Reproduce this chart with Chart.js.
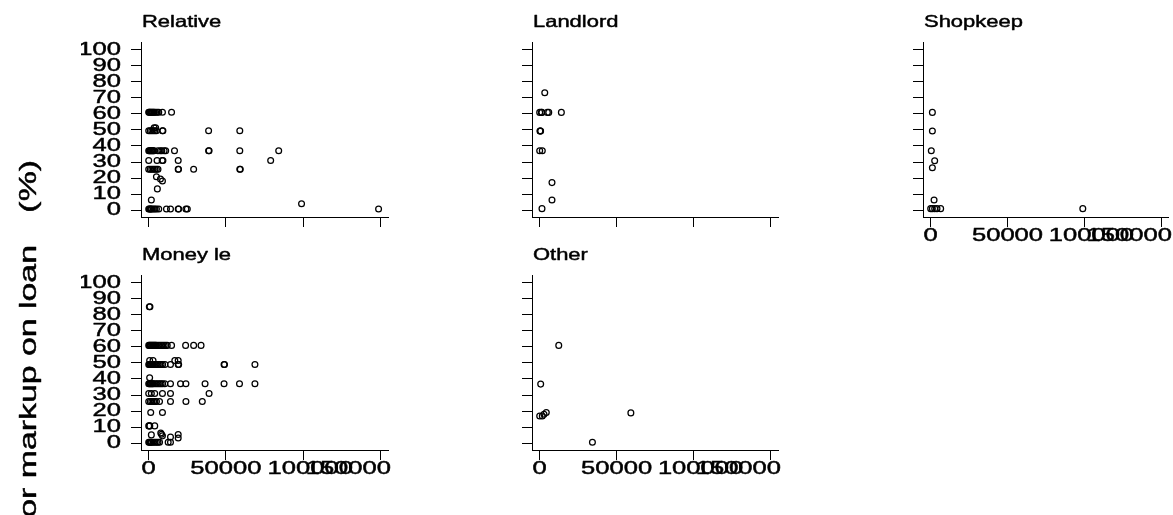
<!DOCTYPE html>
<html><head><meta charset="utf-8">
<script src="https://cdn.jsdelivr.net/npm/chart.js@4.4.1/dist/chart.umd.min.js"></script>
<style>
html,body{margin:0;padding:0;background:#fff;width:1173px;height:515px;overflow:hidden;}
canvas{position:absolute;left:0;top:0;}
</style></head><body>
<canvas id="c0" width="1173" height="515"></canvas>
<canvas id="c1" width="1173" height="515"></canvas>
<canvas id="c2" width="1173" height="515"></canvas>
<canvas id="c3" width="1173" height="515"></canvas>
<canvas id="c4" width="1173" height="515"></canvas>
<script>
// ---------- data ----------
const panelTitles = ["Relative", "Landlord", "Shopkeep", "Money le", "Other"];
const yAxisTitle = "or markup on loan";
const yAxisUnit = "(%)";
const xTickValues = [0, 50000, 100000, 150000];
const xTickLabels = ["0", "50000", "100000", "150000"];
const yTickValues = [0, 10, 20, 30, 40, 50, 60, 70, 80, 90, 100];

const relativeX = [0,300,800,1200,1700,2200,2700,3200,3700,4500,5500,6500,8900,14800,
  3500,4500,
  0,1000,2000,3000,4000,5000,8900,9200,38800,59000,
  0,500,1000,1500,2000,2500,3000,3500,6000,7500,8500,10000,11000,16700,38800,39100,59000,84200,
  0,5400,8700,9200,19100,79000,
  0,1000,2000,3000,4000,5000,6000,19100,19300,29100,59000,59300,
  5000,7600,8900,5600,1700,
  0,500,1000,1500,2000,3000,4000,5000,6500,11500,14100,19100,19400,24100,25000,148900,
  99000];
const relativeY = [61,61,61,61,61,61,61,61,61,61,61,61,61,61,
  51.3,51.3,
  49.5,49.5,49.5,49.5,49.5,49.5,49.5,49.5,49.5,49.5,
  37,37,37,37,37,37,37,37,37,37,37,37,37,37,37,37,37,37,
  31,31,31,31,31,31,
  25.5,25.5,25.5,25.5,25.5,25.5,25.5,25.5,25.5,25.5,25.5,25.5,
  20.9,19.5,18.2,13.3,6.4,
  0.8,0.8,0.8,0.8,0.8,0.8,0.8,0.8,0.8,0.8,0.8,0.8,0.8,0.8,0.8,0.8,
  4.1];

const landlordX = [3300,0,1100,1400,5000,5900,14100,200,400,600,0,1700,8000,8000,1500];
const landlordY = [73.1,60.9,60.9,60.9,60.9,60.9,60.9,49.3,49.3,49.3,37,37,17.2,6.4,1];

const shopkeepX = [1100,1100,400,2600,1100,2200,0,1100,2600,4100,6500,99000];
const shopkeepY = [60.9,49.3,37,30.8,26.5,6.4,1,1,1,1,1,1];

const moneyX = [400,800,
  0,500,1000,1500,2000,2500,3000,3500,4000,4500,5000,6000,7000,8000,9000,10000,11000,12000,14800,23900,29100,33900,
  600,2800,16900,19100,
  0,500,1000,1500,2000,2500,3000,4000,5000,6000,7000,8000,9000,10500,14100,19100,19400,48800,49100,68800,
  600,
  0,500,1000,1500,2000,2500,3000,4000,5000,6000,7000,8000,9000,10400,14100,20600,24100,36500,48800,58800,68800,
  0,1700,3900,8900,14100,39100,
  0,1000,2000,3000,4000,5000,7000,14100,24100,34700,
  1300,8900,
  0,500,700,3900,
  1700,7800,8300,8900,14100,19100,19100,
  0,500,1000,1500,2000,3000,4000,5000,6000,7000,12600,14100];
const moneyY = [85,85,
  60.9,60.9,60.9,60.9,60.9,60.9,60.9,60.9,60.9,60.9,60.9,60.9,60.9,60.9,60.9,60.9,60.9,60.9,60.9,60.9,60.9,60.9,
  51.5,51.5,51.5,51.5,
  49,49,49,49,49,49,49,49,49,49,49,49,49,49,49,49,49,49,49,49,
  40.7,
  37,37,37,37,37,37,37,37,37,37,37,37,37,37,37,37,37,37,37,37,37,
  31,31,31,31,31,31,
  26,26,26,26,26,26,26,26,26,26,
  19.1,19.1,
  10.8,10.8,10.8,10.8,
  5.2,6.4,5.6,4.6,3.9,5.4,3.3,
  0.6,0.6,0.6,0.6,0.6,0.6,0.6,0.6,0.6,0.6,0.6,0.6];

const otherX = [12400,650,0,1700,2800,4300,59300,34300];
const otherY = [60.9,36.8,17,17,18.1,19.1,18.9,0.6];

// ---------- layout / style ----------
const W = 1173, H = 515;
const FONT = '"Liberation Sans", Arial, sans-serif';
const LABEL_STRETCH = 1.42, TITLE_STRETCH = 1.33;
// horizontal nudges of x tick labels (in spaces before / after), as in the reference
const xLabelPadBefore = [0, 0, 2, 0];
const xLabelPadAfter = [0, 0, 0, 9];

function patchCtx(ctx) {
  const origFill = ctx.fillText.bind(ctx);
  const origStroke = ctx.strokeText.bind(ctx);
  ctx._sx = LABEL_STRETCH;
  ctx.fillText = function (t, x, y, mw) {
    const s = ctx._sx || 1;
    ctx.save(); ctx.translate(x, y); ctx.scale(s, 1);
    origFill(t, 0, 0);
    ctx.lineWidth = 0.45; ctx.strokeStyle = ctx.fillStyle; ctx.lineJoin = 'round';
    origStroke(t, 0, 0);
    ctx.restore();
  };
}

const panelPlugin = {
  id: 'panelTitle',
  afterDraw(chart) {
    const o = chart.options.plugins.panelTitle || {};
    const ctx = chart.ctx, a = chart.chartArea;
    ctx.save();
    ctx.fillStyle = '#000';
    ctx.font = '16.5px ' + FONT;
    ctx.textAlign = 'left'; ctx.textBaseline = 'alphabetic';
    ctx._sx = TITLE_STRETCH;
    ctx.fillText(o.text, a.left + 1, a.top - 15.5);
    if (o.yTitle) {
      ctx._sx = 1.41;
      ctx.font = '24px ' + FONT;
      ctx.textAlign = 'right';
      ctx.save(); ctx.translate(36, 245); ctx.rotate(-Math.PI / 2);
      ctx.fillText(yAxisTitle, 0, 0); ctx.restore();
      ctx.save(); ctx.translate(36, 160); ctx.rotate(-Math.PI / 2);
      ctx.fillText(yAxisUnit, 0, 0); ctx.restore();
    }
    ctx._sx = LABEL_STRETCH;
    ctx.restore();
  }
};

const panels = [
  {id:'c0', title:panelTitles[0], xs:relativeX, ys:relativeY, left:141, right:388, top:42, bottom:217, xl:false, yl:true},
  {id:'c1', title:panelTitles[1], xs:landlordX, ys:landlordY, left:532, right:778, top:42, bottom:217, xl:false, yl:false},
  {id:'c2', title:panelTitles[2], xs:shopkeepX, ys:shopkeepY, left:923, right:1170, top:42, bottom:217, xl:true, yl:false},
  {id:'c3', title:panelTitles[3], xs:moneyX, ys:moneyY, left:141, right:388, top:275, bottom:450, xl:true, yl:true, yTitle:true},
  {id:'c4', title:panelTitles[4], xs:otherX, ys:otherY, left:532, right:778, top:275, bottom:450, xl:true, yl:false}
];

const YW = 60, XH = 40;
const axisCommon = {
  border: {display: true, color: '#000', width: 1},
  grid: {display: true, drawOnChartArea: false, drawTicks: true, tickLength: 10, color: '#000', lineWidth: 1}
};

function xLabel(v) {
  const i = xTickValues.indexOf(v);
  if (i < 0) return String(v);
  return ' '.repeat(xLabelPadBefore[i]) + xTickLabels[i] + ' '.repeat(xLabelPadAfter[i]);
}

panels.forEach(p => {
  const canvas = document.getElementById(p.id);
  const ctx = canvas.getContext('2d');
  patchCtx(ctx);
  new Chart(ctx, {
    type: 'scatter',
    data: {datasets: [{
      data: p.xs.map((x, i) => ({x: x, y: p.ys[i]})),
      pointStyle: 'circle', pointRadius: 2.9, pointHoverRadius: 2.9, pointBorderWidth: 1.25,
      pointBorderColor: '#000', pointBackgroundColor: 'rgba(0,0,0,0)', showLine: false
    }]},
    options: {
      responsive: false, animation: false, events: [],
      layout: {padding: {left: p.left - YW, top: p.top, right: W - p.right, bottom: H - p.bottom - XH}},
      plugins: {legend: {display: false}, tooltip: {enabled: false}, title: {display: false},
        panelTitle: {text: p.title, yTitle: !!p.yTitle}},
      scales: {
        x: Object.assign({}, axisCommon, {
          type: 'linear', min: -5000, max: 155000,
          afterBuildTicks: s => { s.ticks = xTickValues.map(v => ({value: v})); },
          afterFit: s => { s.height = XH; s.paddingLeft = 0; s.paddingRight = 0; },
          ticks: {display: p.xl, autoSkip: false, maxRotation: 0, minRotation: 0, padding: 0, color: '#000',
            font: {family: FONT, size: 18, lineHeight: 1}, callback: v => xLabel(v)}
        }),
        y: Object.assign({}, axisCommon, {
          type: 'linear', min: -4.2, max: 104.7,
          afterBuildTicks: s => { s.ticks = yTickValues.map(v => ({value: v})); },
          afterFit: s => { s.width = YW; s.paddingTop = 0; s.paddingBottom = 0; },
          ticks: {display: p.yl, autoSkip: false, padding: 10, color: '#000',
            font: {family: FONT, size: 18, lineHeight: 1}, callback: v => String(v)}
        })
      }
    },
    plugins: [panelPlugin]
  });
});
</script>
</body></html>
